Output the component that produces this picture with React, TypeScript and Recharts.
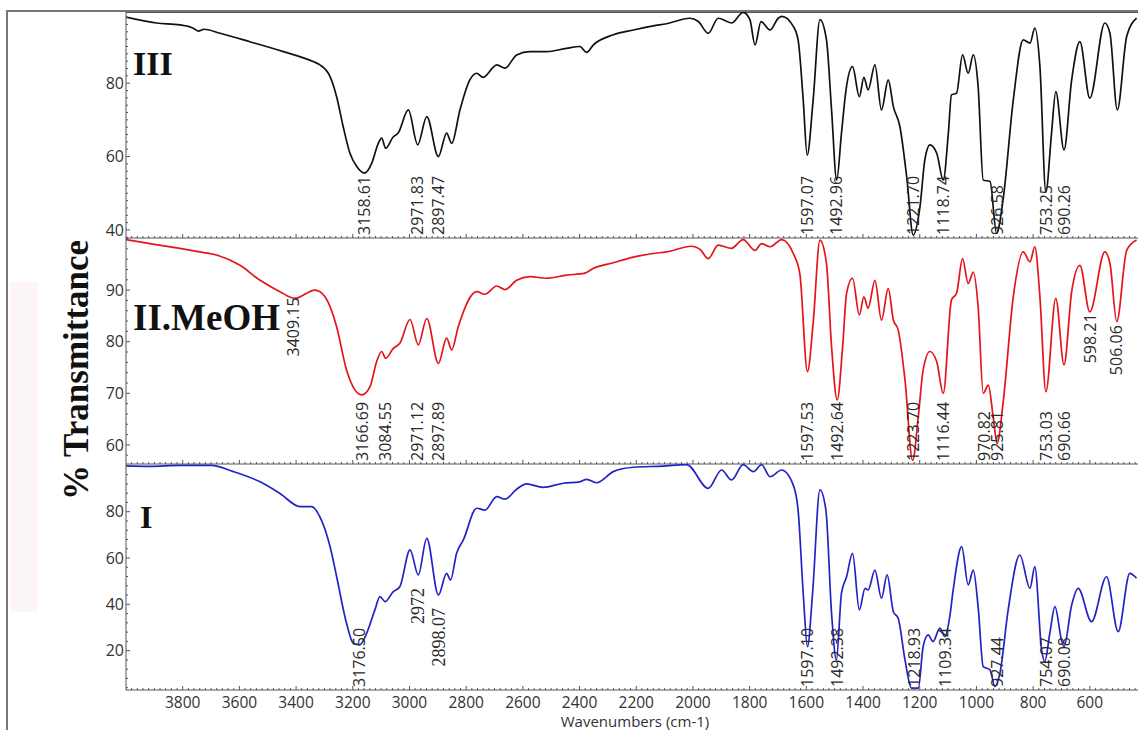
import { LineChart, Line, XAxis, YAxis, ReferenceDot } from 'recharts';

// Three stacked FT-IR spectra sharing one wavenumber axis

const wnIII = [4000, 3892, 3810, 3763, 3745, 3725, 3668, 3563, 3445, 3340, 3316, 3280, 3257, 3234, 3210, 3186, 3158, 3133, 3110, 3098, 3084, 3057, 3040, 3004, 2971, 2939, 2898, 2869, 2851, 2822, 2787, 2763, 2740, 2692, 2663, 2622, 2575, 2516, 2446, 2399, 2375, 2352, 2281, 2210, 2140, 2093, 2011, 1981, 1946, 1911, 1864, 1823, 1799, 1781, 1760, 1728, 1699, 1687, 1646, 1629, 1611, 1597, 1576, 1552, 1529, 1511, 1493, 1476, 1460, 1437, 1413, 1397, 1382, 1358, 1335, 1311, 1293, 1270, 1246, 1223, 1199, 1182, 1164, 1140, 1117, 1099, 1088, 1070, 1049, 1029, 1011, 994, 976, 952, 929, 906, 870, 835, 811, 794, 776, 755, 735, 720, 691, 664, 635, 600, 547, 529, 503, 470, 435];
const tIII = [98.0, 96.4, 95.9, 95.0, 94.2, 94.7, 93.6, 91.3, 88.6, 85.9, 85.0, 81.8, 76.3, 68.2, 60.9, 57.3, 55.5, 58.2, 63.6, 65.0, 62.3, 65.4, 66.4, 72.7, 63.2, 70.9, 60.0, 66.4, 63.6, 72.7, 80.9, 82.7, 81.6, 85.0, 84.1, 87.7, 88.6, 88.6, 89.5, 90.0, 88.4, 90.4, 93.2, 94.5, 95.6, 96.2, 97.7, 96.8, 93.6, 97.7, 96.4, 99.3, 97.3, 90.4, 96.8, 94.5, 97.7, 98.2, 95.5, 91.8, 75.4, 60.4, 75.4, 97.3, 91.8, 72.7, 53.6, 66.4, 78.2, 84.5, 76.3, 81.6, 78.2, 85.0, 72.7, 80.9, 73.6, 68.2, 54.5, 38.6, 46.4, 59.1, 63.2, 60.9, 53.6, 66.4, 76.8, 77.3, 87.7, 82.7, 87.7, 79.1, 53.6, 53.2, 39.1, 48.2, 75.4, 91.8, 90.9, 95.0, 84.5, 50.4, 66.4, 77.7, 61.8, 80.9, 91.3, 75.9, 96.4, 93.6, 72.7, 92.7, 97.7];

const wnII = [4000, 3915, 3810, 3739, 3680, 3598, 3527, 3457, 3405, 3333, 3298, 3257, 3222, 3169, 3139, 3116, 3098, 3084, 3057, 3034, 2998, 2969, 2939, 2898, 2869, 2851, 2828, 2763, 2734, 2692, 2663, 2622, 2575, 2516, 2446, 2381, 2352, 2281, 2210, 2140, 2093, 2005, 1975, 1946, 1911, 1864, 1823, 1781, 1758, 1728, 1687, 1646, 1623, 1596, 1576, 1552, 1529, 1511, 1491, 1472, 1458, 1437, 1413, 1397, 1382, 1358, 1335, 1311, 1293, 1276, 1252, 1225, 1205, 1188, 1164, 1140, 1117, 1088, 1070, 1049, 1029, 1011, 994, 976, 958, 941, 927, 906, 870, 835, 811, 794, 776, 755, 720, 691, 664, 635, 600, 547, 529, 505, 470, 435];
const tII = [99.8, 99.0, 98.1, 97.4, 96.8, 94.8, 91.9, 89.7, 88.4, 90.0, 88.7, 82.9, 74.5, 69.7, 71.3, 76.1, 78.1, 76.8, 78.7, 79.7, 84.3, 79.4, 84.5, 75.8, 80.7, 78.4, 82.9, 89.7, 89.2, 90.8, 90.1, 91.9, 92.6, 92.3, 92.9, 93.3, 94.2, 95.3, 96.4, 97.1, 97.4, 98.5, 97.9, 96.1, 98.7, 98.1, 99.8, 97.7, 99.0, 98.4, 99.8, 97.1, 93.2, 74.2, 83.6, 99.7, 95.2, 79.0, 68.7, 79.0, 89.4, 92.3, 85.2, 88.7, 86.5, 91.9, 84.2, 90.3, 84.2, 82.3, 72.6, 57.0, 65.5, 74.5, 78.1, 76.1, 70.0, 88.1, 89.4, 96.1, 91.3, 93.5, 86.8, 70.0, 71.6, 65.5, 60.3, 68.1, 88.7, 97.4, 95.5, 98.4, 88.7, 70.3, 88.4, 75.5, 89.7, 94.8, 85.8, 97.4, 95.2, 83.9, 97.7, 99.7];

const wnI = [4000, 3915, 3810, 3700, 3621, 3527, 3457, 3386, 3345, 3316, 3280, 3257, 3222, 3198, 3175, 3151, 3122, 3104, 3086, 3057, 3034, 2998, 2969, 2939, 2898, 2869, 2855, 2834, 2810, 2763, 2734, 2692, 2663, 2622, 2587, 2529, 2457, 2399, 2375, 2340, 2281, 2210, 2105, 2022, 1946, 1899, 1864, 1823, 1787, 1758, 1728, 1687, 1646, 1629, 1611, 1596, 1578, 1552, 1531, 1511, 1494, 1476, 1458, 1437, 1413, 1393, 1382, 1358, 1335, 1315, 1293, 1276, 1252, 1229, 1205, 1188, 1170, 1153, 1129, 1111, 1094, 1082, 1052, 1029, 1011, 994, 976, 952, 935, 917, 888, 847, 811, 794, 770, 759, 741, 723, 700, 691, 664, 641, 594, 541, 500, 459, 435];
const tI = [99.8, 99.6, 100.0, 100.0, 97.3, 92.9, 87.9, 82.2, 82.2, 77.8, 64.9, 52.0, 31.8, 23.2, 22.5, 27.5, 37.6, 43.3, 41.2, 45.5, 47.6, 63.5, 52.7, 68.5, 44.0, 53.4, 50.5, 62.0, 67.8, 81.5, 80.7, 86.5, 85.4, 89.7, 92.0, 90.5, 92.3, 92.9, 94.0, 92.5, 97.3, 99.2, 99.7, 100.3, 90.1, 98.0, 93.7, 100.3, 97.3, 100.3, 95.1, 98.0, 91.5, 80.7, 44.8, 21.7, 44.8, 89.4, 80.7, 36.1, 16.0, 44.8, 51.9, 62.0, 37.6, 46.9, 46.2, 54.8, 42.6, 52.7, 36.8, 34.0, 16.0, 3.8, 3.8, 21.7, 26.8, 23.9, 29.7, 26.1, 34.7, 46.2, 64.9, 48.4, 54.8, 39.0, 13.1, 11.7, 4.5, 10.3, 37.6, 61.3, 46.9, 56.3, 20.3, 15.3, 27.5, 39.0, 24.6, 21.7, 39.7, 46.9, 32.5, 51.9, 28.2, 53.4, 51.3];

// tick labels
const xTickLabels = [3800, 3600, 3400, 3200, 3000, 2800, 2600, 2400, 2200, 2000, 1800, 1600, 1400, 1200, 1000, 800, 600];
const yLabelsIII = [40, 60, 80];
const yLabelsII = [60, 70, 80, 90];
const yLabelsI = [20, 40, 60, 80];

// peak annotations; "top" = transmittance where the label ends, otherwise it sits on the panel floor
interface Peak {
  wn: number;
  text: string;
  top?: number;
  serif?: boolean;
}

const peaksIII: Peak[] = [
  { wn: 3158.61, text: '3158.61' },
  { wn: 2971.83, text: '2971.83' },
  { wn: 2897.47, text: '2897.47' },
  { wn: 1597.07, text: '1597.07' },
  { wn: 1492.96, text: '1492.96' },
  { wn: 1221.7, text: '1221.70' },
  { wn: 1118.74, text: '1118.74' },
  { wn: 926.58, text: '926.58' },
  { wn: 753.25, text: '753.25' },
  { wn: 690.26, text: '690.26' },
];

const peaksII: Peak[] = [
  { wn: 3409.15, text: '3409.15', top: 88.6 },
  { wn: 3166.69, text: '3166.69' },
  { wn: 3084.55, text: '3084.55' },
  { wn: 2971.12, text: '2971.12' },
  { wn: 2897.89, text: '2897.89' },
  { wn: 1597.53, text: '1597.53' },
  { wn: 1492.64, text: '1492.64' },
  { wn: 1223.7, text: '1223.70' },
  { wn: 1116.44, text: '1116.44' },
  { wn: 970.82, text: '970.82' },
  { wn: 925.81, text: '925.81' },
  { wn: 753.03, text: '753.03' },
  { wn: 690.66, text: '690.66' },
  { wn: 598.21, text: '598.21', top: 85.5 },
  { wn: 506.06, text: '506.06', top: 83.2 },
];

const peaksI: Peak[] = [
  { wn: 3176.5, text: '3176.50' },
  { wn: 2972, text: '2972', top: 47.1, serif: true },
  { wn: 2898.07, text: '2898.07', top: 38.4, serif: true },
  { wn: 1597.1, text: '1597.10' },
  { wn: 1492.38, text: '1492.38' },
  { wn: 1218.93, text: '1218.93' },
  { wn: 1109.34, text: '1109.34' },
  { wn: 927.44, text: '927.44' },
  { wn: 754.07, text: '754.07' },
  { wn: 690.08, text: '690.08' },
];

const toRows = (wn: number[], t: number[]) => wn.map((w, i) => ({ wn: w, t: t[i] }));

const SANS = '"Open Sans", "DejaVu Sans", sans-serif';
const SERIF = '"Liberation Serif", "Times New Roman", serif';
const AXIS = '#555';
const TEXT = '#333';

const X_DOMAIN: [number, number] = [430, 4000];
const xMinor: number[] = [];
for (let v = 440; v < 4000; v += 20) xMinor.push(v);

function XTick(props: any) {
  const { x, y, payload, showLabel } = props;
  const v = payload.value;
  const major = v % 200 === 0;
  return (
    <g>
      <line x1={x} x2={x} y1={y} y2={y - (major ? 4 : 2)} stroke={AXIS} strokeWidth={1} />
      {showLabel && xTickLabels.includes(v) && (
        <text x={x} y={y + 18} textAnchor="middle" fontFamily={SANS} fontSize={15.5} fill={TEXT}>
          {v}
        </text>
      )}
    </g>
  );
}

function YTick(props: any) {
  const { x, y, payload, labels } = props;
  const v = payload.value;
  const major = labels.includes(v);
  return (
    <g>
      <line x1={x} x2={x + (major ? 4 : 2)} y1={y} y2={y} stroke={AXIS} strokeWidth={1} />
      {major && (
        <text x={x - 2} y={y} dy="0.35em" textAnchor="end" fontFamily={SANS} fontSize={16} fill={TEXT}>
          {v}
        </text>
      )}
    </g>
  );
}

function PeakText({ cx, cy, peak }: { cx?: number; cy?: number; peak: Peak }) {
  if (cx == null || cy == null) return null;
  const atPeak = peak.top != null;
  const ay = atPeak ? cy : cy - 3;
  return (
    <text
      x={cx}
      y={ay}
      dy="0.36em"
      transform={`rotate(-90, ${cx}, ${ay})`}
      textAnchor={atPeak ? 'end' : 'start'}
      fontFamily={peak.serif ? SERIF : SANS}
      fontSize={peak.serif ? 18 : 16}
      fill="#2a2a2a"
    >
      {peak.text}
    </text>
  );
}

interface PanelProps {
  top: number;
  rows: { wn: number; t: number }[];
  color: string;
  domain: [number, number];
  labels: number[];
  step: number;
  peaks: Peak[];
  showX: boolean;
}

function Panel({ top, rows, color, domain, labels, step, peaks, showX }: PanelProps) {
  const yTicks: number[] = [];
  for (let v = Math.ceil(domain[0] / step) * step; v < domain[1]; v += step) yTicks.push(v);
  return (
    <div style={{ position: 'absolute', left: 0, top }}>
      <LineChart width={1138} height={266} data={rows} margin={{ top: 0, right: 0, bottom: 0, left: 0 }}>
        <XAxis
          type="number"
          dataKey="wn"
          domain={X_DOMAIN}
          reversed
          allowDataOverflow
          ticks={xMinor}
          interval={0}
          height={40}
          tickSize={0}
          tickMargin={0}
          tickLine={false}
          axisLine={{ stroke: AXIS }}
          tick={<XTick showLabel={showX} />}
        />
        <YAxis
          type="number"
          domain={domain}
          allowDataOverflow
          ticks={yTicks}
          interval={0}
          width={126}
          tickSize={0}
          tickMargin={0}
          tickLine={false}
          axisLine={{ stroke: AXIS }}
          tick={<YTick labels={labels} />}
        />
        <Line
          type="monotone"
          dataKey="t"
          stroke={color}
          strokeWidth={1.7}
          dot={false}
          isAnimationActive={false}
        />
        {peaks.map((p) => (
          <ReferenceDot
            key={p.text}
            x={p.wn}
            y={p.top ?? domain[0]}
            r={0}
            ifOverflow="visible"
            shape={(sp: any) => <PeakText cx={sp.cx} cy={sp.cy} peak={p} />}
          />
        ))}
      </LineChart>
    </div>
  );
}

export default function App() {
  return (
    <div style={{ position: 'absolute', left: 0, top: 0, width: 1138, height: 731, overflow: 'hidden', background: '#fff' }}>
      <div
        style={{
          position: 'absolute',
          left: 6,
          top: 10,
          width: 1200,
          height: 718,
          borderLeft: '2px solid #777',
          borderTop: '2px solid #777',
        }}
      />
      <div style={{ position: 'absolute', left: 10, top: 282, width: 28, height: 330, background: '#fdf6f6' }} />
      <div style={{ position: 'absolute', left: 126, top: 12, width: 1012, height: 1, background: AXIS }} />

      <Panel top={12} rows={toRows(wnIII, tIII)} color="#111" domain={[37.8, 99.4]} labels={yLabelsIII} step={2} peaks={peaksIII} showX={false} />
      <Panel top={238} rows={toRows(wnII, tII)} color="#e3141b" domain={[56.3, 100.1]} labels={yLabelsII} step={2} peaks={peaksII} showX={false} />
      <Panel top={464} rows={toRows(wnI, tI)} color="#2323c4" domain={[3, 100.6]} labels={yLabelsI} step={4} peaks={peaksI} showX={true} />

      <svg width={1138} height={731} style={{ position: 'absolute', left: 0, top: 0, pointerEvents: 'none' }}>
        <text x={88} y={370} transform="rotate(-90, 88, 370)" textAnchor="middle" fontFamily={SERIF} fontWeight="bold" fontSize={35} fill="#111">
          % Transmittance
        </text>
        <text x={635} y={727} textAnchor="middle" fontFamily={SANS} fontSize={15} fill={TEXT}>
          Wavenumbers (cm-1)
        </text>
        <text x={133} y={75} fontFamily={SERIF} fontWeight="bold" fontSize={34} fill="#111">III</text>
        <text x={133} y={330} fontFamily={SERIF} fontWeight="bold" fontSize={37} fill="#111">II.MeOH</text>
        <text x={140} y={528} fontFamily={SERIF} fontWeight="bold" fontSize={32} fill="#111">I</text>
      </svg>
    </div>
  );
}
